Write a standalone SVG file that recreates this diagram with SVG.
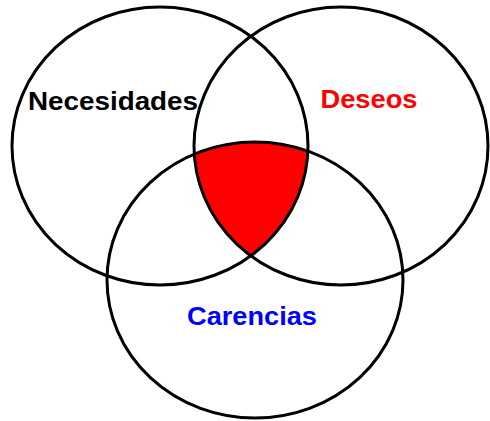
<svg xmlns="http://www.w3.org/2000/svg" width="490" height="421" viewBox="0 0 490 421">
<style>
.c{fill:none;stroke:#000;stroke-width:3}
.t{font-family:"Liberation Sans",Arial,sans-serif;font-weight:bold;font-size:25px}
</style>
<defs>
<clipPath id="clipL"><ellipse cx="160" cy="146" rx="148" ry="139"/></clipPath>
<clipPath id="clipR"><ellipse cx="341" cy="146" rx="147" ry="139"/></clipPath>
</defs>
<rect width="490" height="421" fill="#fff"/>
<g id="intersection" clip-path="url(#clipL)">
<g clip-path="url(#clipR)">
<ellipse cx="255" cy="280" rx="148" ry="138" fill="#ff0000"/>
</g>
</g>
<g id="necesidades">
<ellipse class="c" cx="160" cy="146" rx="148" ry="139"/>
<text class="t" x="28" y="109.5" fill="#000" textLength="170" lengthAdjust="spacingAndGlyphs">Necesidades</text>
</g>
<g id="deseos">
<ellipse class="c" cx="341" cy="146" rx="147" ry="139"/>
<text class="t" x="320.5" y="107.5" fill="#ff0000" textLength="97" lengthAdjust="spacingAndGlyphs">Deseos</text>
</g>
<g id="carencias">
<ellipse class="c" cx="255" cy="280" rx="148" ry="138"/>
<text class="t" x="187" y="325" fill="#0000ff" textLength="130" lengthAdjust="spacingAndGlyphs">Carencias</text>
</g>
<g id="connectors"/>
</svg>
